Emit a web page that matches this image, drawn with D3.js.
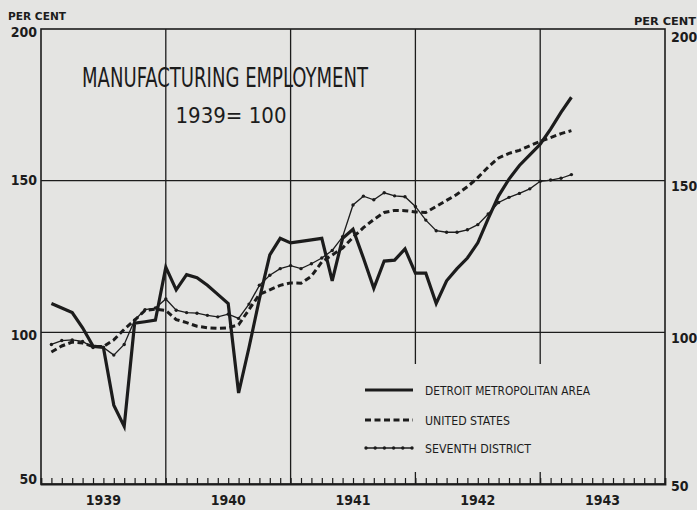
<!DOCTYPE html>
<html>
<head>
<meta charset="utf-8">
<script src="https://cdn.jsdelivr.net/npm/d3@7"></script>
<style>
  body { margin: 0; background: #e4e4e2; }
  svg { display: block; }
  text { font-family: "DejaVu Sans Condensed", "Liberation Sans Narrow", sans-serif; fill: #1c1c1c; }
</style>
</head>
<body>
<div id="root"></div>
<script>
// month index: 1 = Jan 1939 ... 51 = Mar 1943
const yearLabels = ["1939", "1940", "1941", "1942", "1943"];
const yTicks = [50, 100, 150, 200];

const detroit = [109.5, 108, 106.5, 101.5, 95.5, 95, 76, 69, 103, 103.5, 104, 121.5,
  114, 119, 118, 115.5, 112.5, 109.5, 80, 95, 111, 125.5, 131, 129.5,
  130, 130.5, 131, 117, 131, 134, 124.5, 114.5, 123.5, 123.8, 127.5, 119.5,
  119.5, 109.5, 117, 121, 124.5, 129.5, 137.5, 145, 150.5, 155, 158.5, 162,
  167, 172.5, 177.5];

const unitedStates = [93.5, 95.5, 96.8, 96.5, 95.3, 95.3, 97.5, 101, 104, 107.2, 107.6, 107.2,
  104.2, 103.2, 102, 101.5, 101.3, 101.5, 102.5, 107.5, 112.5, 114, 115.5, 116.3,
  116.2, 118.5, 123.2, 125.5, 127.8, 131.3, 134.5, 137.2, 139.5, 140.2, 140.1, 139.7,
  139.5, 141.5, 143.5, 145.5, 148, 151, 154.5, 157.5, 159, 160, 161.5, 163,
  164.2, 165.5, 166.5];

const seventhDistrict = [96, 97.3, 97.5, 97, 95, 95, 92.5, 96, 104, 107.5, 108, 111,
  107.3, 106.5, 106.3, 105.6, 105.1, 106, 104.6, 109.3, 115.5, 118.8, 121, 122,
  121, 122.6, 124.5, 127, 131.5, 142, 144.9, 143.7, 146, 145, 144.7, 141.5,
  137, 133.5, 133, 133, 133.8, 135.5, 139, 142.8, 144.5, 145.8, 147.3, 149.8,
  150.2, 150.8, 152];

const width = 697, height = 510;
const ink = "#1c1c1c";
const paper = "#e4e4e2";

const svg = d3.select("#root").append("svg")
  .attr("width", width)
  .attr("height", height);

svg.append("rect").attr("width", width).attr("height", height).attr("fill", paper);

const x = d3.scaleLinear().domain([0, 60]).range([41, 665]);
const y = d3.scaleLinear().domain([50, 200]).range([484, 29]);

// frame
svg.append("rect")
  .attr("x", x(0)).attr("y", y(200))
  .attr("width", x(60) - x(0)).attr("height", y(50) - y(200))
  .attr("fill", "none").attr("stroke", ink).attr("stroke-width", 1.6);

// grid
const grid = svg.append("g").attr("stroke", ink).attr("stroke-width", 1.3);
[100, 150].forEach((v) => {
  grid.append("line").attr("x1", x(0)).attr("x2", x(60)).attr("y1", y(v)).attr("y2", y(v));
});
[12, 24, 36, 48].forEach((m) => {
  grid.append("line").attr("x1", x(m)).attr("x2", x(m)).attr("y1", y(200)).attr("y2", y(50));
});

// month ticks
const xAxis = d3.axisBottom(x)
  .tickValues(d3.range(1, 60))
  .tickSize(-6)
  .tickFormat("");
const xg = svg.append("g").attr("transform", `translate(0,${y(50)})`).call(xAxis);
xg.select(".domain").attr("stroke", ink).attr("stroke-width", 1.8);
xg.selectAll(".tick line").attr("stroke", ink).attr("stroke-width", 1.2);

// year labels
svg.selectAll(".year")
  .data(yearLabels)
  .join("text")
  .attr("class", "year")
  .attr("x", (d, i) => x(i * 12 + 6))
  .attr("y", 505)
  .attr("text-anchor", "middle")
  .attr("font-size", 14)
  .attr("font-weight", "bold")
  .text((d) => d);

// y labels left and right (the scan is slightly skewed, hence the offsets)
const leftDy = { 50: -1, 100: 7, 150: 4, 200: 7 };
const rightDy = { 50: 6, 100: 10, 150: 10, 200: 12 };

const yLeft = d3.axisLeft(y).tickValues(yTicks).tickSize(0).tickPadding(4);
const ygl = svg.append("g").attr("transform", `translate(${x(0)},0)`).call(yLeft);
ygl.select(".domain").remove();
ygl.selectAll("text").attr("font-size", 14).attr("font-weight", "bold")
  .attr("font-family", "DejaVu Sans Condensed").attr("fill", ink)
  .attr("dy", (d) => leftDy[d]);

const yRight = d3.axisRight(y).tickValues(yTicks).tickSize(0).tickPadding(6);
const ygr = svg.append("g").attr("transform", `translate(${x(60)},0)`).call(yRight);
ygr.select(".domain").remove();
ygr.selectAll("text").attr("font-size", 14).attr("font-weight", "bold")
  .attr("font-family", "DejaVu Sans Condensed").attr("fill", ink)
  .attr("dy", (d) => rightDy[d]);

svg.append("text").attr("x", 8).attr("y", 20).attr("font-size", 11).attr("font-weight", "bold")
  .attr("textLength", 58).attr("lengthAdjust", "spacingAndGlyphs").text("PER CENT");
svg.append("text").attr("x", 634).attr("y", 25).attr("font-size", 11).attr("font-weight", "bold")
  .attr("textLength", 62).attr("lengthAdjust", "spacingAndGlyphs").text("PER CENT");

// title
svg.append("text").attr("x", 82).attr("y", 87).attr("font-size", 26)
  .attr("textLength", 286).attr("lengthAdjust", "spacingAndGlyphs")
  .text("MANUFACTURING EMPLOYMENT");
svg.append("text").attr("x", 231).attr("y", 123).attr("font-size", 22)
  .attr("text-anchor", "middle").text("1939= 100");

// lines
const line = d3.line().x((d, i) => x(i + 1)).y((d) => y(d));

svg.append("path").datum(unitedStates)
  .attr("d", line).attr("fill", "none").attr("stroke", ink)
  .attr("stroke-width", 3).attr("stroke-dasharray", "6,3.5");

svg.append("path").datum(seventhDistrict)
  .attr("d", line).attr("fill", "none").attr("stroke", ink).attr("stroke-width", 1.3);
svg.selectAll(".dot7").data(seventhDistrict).join("circle")
  .attr("class", "dot7")
  .attr("cx", (d, i) => x(i + 1)).attr("cy", (d) => y(d))
  .attr("r", 1.7).attr("fill", ink);

svg.append("path").datum(detroit)
  .attr("d", line).attr("fill", "none").attr("stroke", ink)
  .attr("stroke-width", 3.2).attr("stroke-linejoin", "miter");

// legend
const legend = svg.append("g");
legend.append("rect").attr("x", 356).attr("y", 364).attr("width", 250).attr("height", 108)
  .attr("fill", paper);

const items = [
  { label: "DETROIT METROPOLITAN AREA", y: 390, w: 165 },
  { label: "UNITED STATES", y: 420, w: 85 },
  { label: "SEVENTH DISTRICT", y: 448, w: 106 }
];
items.forEach((it, i) => {
  const ln = legend.append("line")
    .attr("x1", 365).attr("x2", 413).attr("y1", it.y).attr("y2", it.y)
    .attr("stroke", ink);
  if (i === 0) ln.attr("stroke-width", 3.2);
  if (i === 1) ln.attr("stroke-width", 3).attr("stroke-dasharray", "6,3.5");
  if (i === 2) {
    ln.attr("stroke-width", 1.3);
    legend.selectAll(".ldot").data(d3.range(6)).join("circle")
      .attr("class", "ldot")
      .attr("cx", (d) => 366 + d * 9.2).attr("cy", it.y).attr("r", 1.7).attr("fill", ink);
  }
  legend.append("text").attr("x", 425).attr("y", it.y + 5)
    .attr("font-size", 12).attr("textLength", it.w).attr("lengthAdjust", "spacingAndGlyphs")
    .text(it.label);
});
</script>
</body>
</html>
